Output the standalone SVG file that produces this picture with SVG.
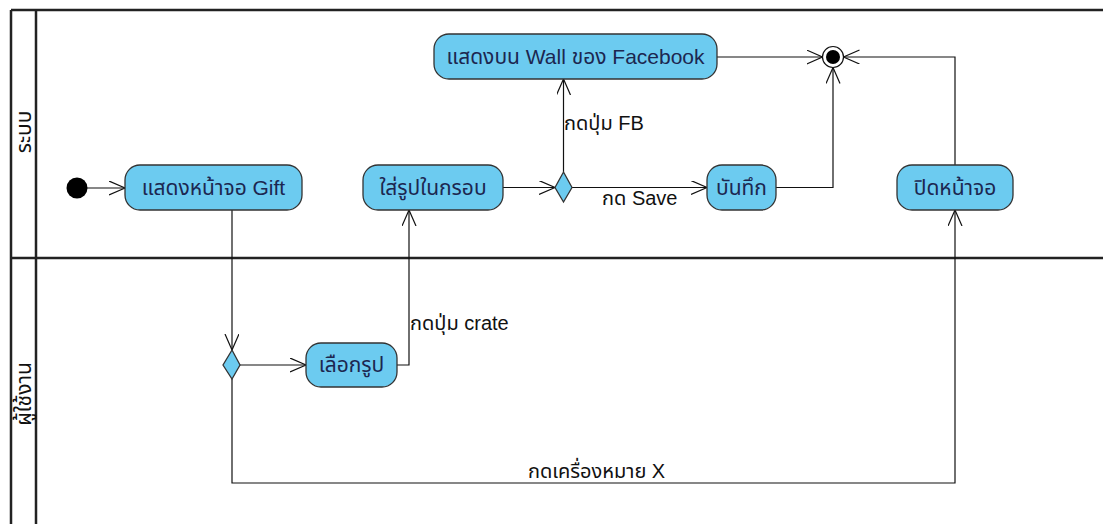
<svg xmlns="http://www.w3.org/2000/svg" width="1103" height="524" viewBox="0 0 1103 524">
<style>
.frame{stroke:#222;stroke-width:2.5;fill:none}
.node rect{fill:#6ccbf0;stroke:#333;stroke-width:1.3}
.node text{font-family:"Liberation Sans","Noto Sans","Noto Sans Thai","DejaVu Sans",sans-serif;font-size:21px;fill:#1c2750;text-anchor:middle}
.dec{fill:#6ccbf0;stroke:#333;stroke-width:1.3}
.edge{stroke:#111;stroke-width:1.2;fill:none}
.lbl{font-family:"Liberation Sans","Noto Sans","Noto Sans Thai","DejaVu Sans",sans-serif;font-size:20px;fill:#111}
.lane{font-family:"Liberation Sans","Noto Sans","Noto Sans Thai","DejaVu Sans",sans-serif;font-size:21px;fill:#111;text-anchor:middle}
</style>
<defs>
<marker id="arr" markerUnits="userSpaceOnUse" markerWidth="18" markerHeight="16" refX="16" refY="7" orient="auto">
<path d="M0,0 L16,7 L0,14" fill="none" stroke="#111" stroke-width="1.2"/>
</marker>
</defs>
<rect width="1103" height="524" fill="#fff"/>
<g id="lanes">
<line class="frame" x1="11" y1="10" x2="1103" y2="10"/>
<line class="frame" x1="11" y1="10" x2="11" y2="524"/>
<line class="frame" x1="36" y1="10" x2="36" y2="524"/>
<line class="frame" x1="11" y1="258" x2="1103" y2="258"/>
<text class="lane" transform="translate(31,132) rotate(-90)">ระบบ</text>
<text class="lane" transform="translate(31,394) rotate(-90)">ผู้ใช้งาน</text>
</g>
<g id="connectors">
<path class="edge" d="M87,188 L125,188" marker-end="url(#arr)"/>
<path class="edge" d="M232,210 L232,350" marker-end="url(#arr)"/>
<path class="edge" d="M240,365 L306,365" marker-end="url(#arr)"/>
<path class="edge" d="M397,365 L409,365 L409,210" marker-end="url(#arr)"/>
<path class="edge" d="M503,187.5 L555,187.5" marker-end="url(#arr)"/>
<path class="edge" d="M563.5,172 L563.5,79" marker-end="url(#arr)"/>
<path class="edge" d="M572,187.5 L707,187.5" marker-end="url(#arr)"/>
<path class="edge" d="M717,57 L822.5,57" marker-end="url(#arr)"/>
<path class="edge" d="M776,187.5 L833,187.5 L833,67.5" marker-end="url(#arr)"/>
<path class="edge" d="M955,165 L955,57 L843.5,57" marker-end="url(#arr)"/>
<path class="edge" d="M232,379 L232,483 L955,483 L955,210" marker-end="url(#arr)"/>
<text class="lbl" x="564" y="130">กดปุ่ม FB</text>
<text class="lbl" x="602" y="205">กด Save</text>
<text class="lbl" x="410" y="330">กดปุ่ม crate</text>
<text class="lbl" x="528" y="478">กดเครื่องหมาย X</text>
</g>
<g id="start"><circle cx="77" cy="188" r="10.5" fill="#000"/></g>
<g id="n_gift" class="node"><rect x="125" y="165" width="177" height="45" rx="15"/><text x="213.5" y="195">แสดงหน้าจอ Gift</text></g>
<g id="n_frame" class="node"><rect x="363" y="165" width="140" height="45" rx="15"/><text x="433" y="195">ใส่รูปในกรอบ</text></g>
<g id="n_fb" class="node"><rect x="434" y="34" width="283" height="45" rx="15"/><text x="575.5" y="64">แสดงบน Wall ของ Facebook</text></g>
<g id="n_save" class="node"><rect x="707" y="165" width="69" height="45" rx="15"/><text x="741.5" y="195">บันทึก</text></g>
<g id="n_close" class="node"><rect x="897" y="165" width="116" height="45" rx="15"/><text x="955" y="195">ปิดหน้าจอ</text></g>
<g id="n_pick" class="node"><rect x="306" y="343" width="91" height="44" rx="15"/><text x="351.5" y="372">เลือกรูป</text></g>
<g id="d_share"><polygon class="dec" points="563.5,172 572,187.5 563.5,202 555,187.5"/></g>
<g id="d_user"><polygon class="dec" points="232,350 240,365 232,379 223,365"/></g>
<g id="end"><circle cx="833" cy="57" r="10.5" fill="#fff" stroke="#111" stroke-width="1.2"/><circle cx="833" cy="57" r="7" fill="#000"/></g>
</svg>
